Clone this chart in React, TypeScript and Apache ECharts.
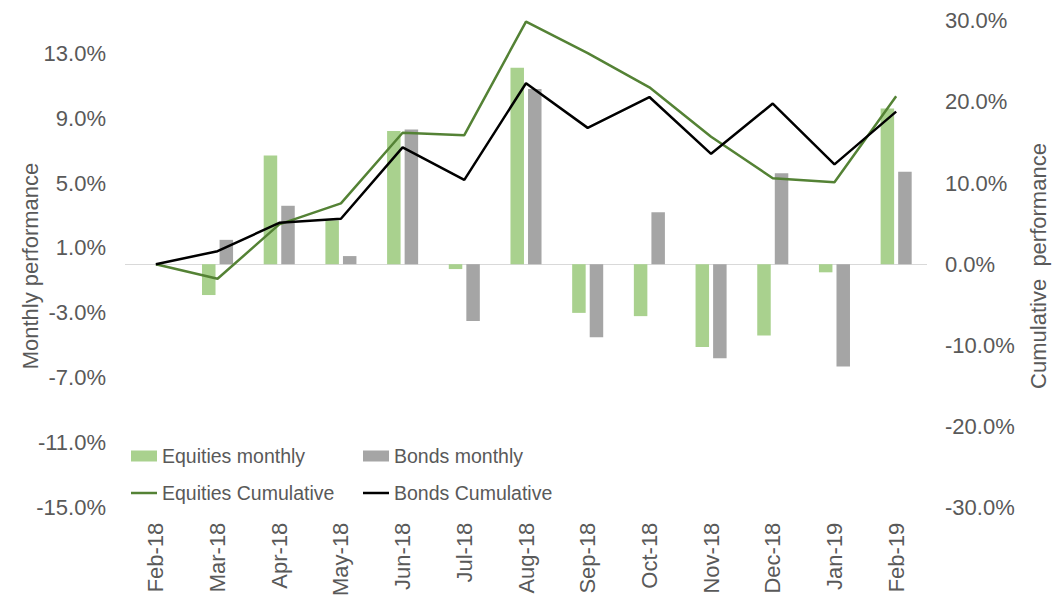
import React, { useEffect, useRef } from "react";
import * as echarts from "echarts";

const categories = ["Feb-18", "Mar-18", "Apr-18", "May-18", "Jun-18", "Jul-18", "Aug-18", "Sep-18", "Oct-18", "Nov-18", "Dec-18", "Jan-19", "Feb-19"];
const equitiesMonthly = [null, -1.9, 6.7, 2.7, 8.2, -0.3, 12.1, -3.0, -3.2, -5.1, -4.4, -0.5, 9.6];
const bondsMonthly = [null, 1.5, 3.6, 0.5, 8.3, -3.5, 10.8, -4.5, 3.2, -5.8, 5.6, -6.3, 5.7];
const equitiesCumulative = [0, -1.8, 4.9, 7.5, 16.2, 15.9, 29.9, 26.0, 21.8, 15.7, 10.6, 10.1, 20.7];
const bondsCumulative = [0, 1.6, 5.1, 5.6, 14.4, 10.4, 22.3, 16.8, 20.6, 13.6, 19.8, 12.3, 18.8];

const TEXT = "#595959";
const FONT = "Liberation Sans, Arial, sans-serif";

export default function App() {
  const ref = useRef<HTMLDivElement>(null);
  useEffect(() => {
    if (!ref.current) return;
    const chart = echarts.init(ref.current, undefined, { renderer: "svg" });
    const legendText = { color: TEXT, fontSize: 19.5, fontFamily: FONT, padding: [0, 0, 0, 0] };
    const mkLegend = (name: string, left: number, top: number, isBar: boolean) => ({
      data: [name],
      left,
      top,
      orient: "horizontal",
      icon: "rect",
      itemWidth: 26,
      itemHeight: isBar ? 11 : 2.5,
      itemGap: 0,
      padding: 0,
      textStyle: legendText,
      selectedMode: false,
    });
    chart.setOption({
      animation: false,
      backgroundColor: "#ffffff",
      textStyle: { fontFamily: FONT },
      grid: { left: 125, right: 135, top: 20.75, bottom: 90.75, containLabel: false },
      legend: [
        mkLegend("Equities monthly", 131, 446, true),
        mkLegend("Bonds monthly", 363, 446, true),
        mkLegend("Equities Cumulative", 131, 483, false),
        mkLegend("Bonds Cumulative", 363, 483, false),
      ],
      xAxis: {
        type: "category",
        data: categories,
        boundaryGap: true,
        axisLine: { show: false, onZero: false },
        axisTick: { show: false },
        axisLabel: { rotate: 90, margin: 15, color: TEXT, fontSize: 22, fontFamily: FONT, interval: 0 },
        splitLine: { show: false },
      },
      yAxis: [
        {
          type: "value",
          min: -15,
          max: 15,
          interval: 4,
          position: "left",
          axisLine: { show: false },
          axisTick: { show: false },
          splitLine: { show: false },
          axisLabel: {
            color: TEXT,
            fontSize: 22,
            fontFamily: FONT,
            margin: 19,
            showMaxLabel: false,
            formatter: (v: number) => v.toFixed(1) + "%",
          },
        },
        {
          type: "value",
          min: -30,
          max: 30,
          interval: 10,
          position: "right",
          axisLine: { show: false },
          axisTick: { show: false },
          splitLine: { show: false },
          axisLabel: {
            color: TEXT,
            fontSize: 22,
            fontFamily: FONT,
            margin: 18,
            formatter: (v: number) => v.toFixed(1) + "%",
          },
        },
      ],
      graphic: [
        {
          type: "text",
          x: 30,
          y: 266,
          rotation: Math.PI / 2,
          style: { text: "Monthly performance", fill: TEXT, fontSize: 22, fontFamily: FONT, align: "center", verticalAlign: "middle" },
        },
        {
          type: "text",
          x: 1038,
          y: 266,
          rotation: Math.PI / 2,
          style: { text: "Cumulative  performance", fill: TEXT, fontSize: 22, fontFamily: FONT, align: "center", verticalAlign: "middle" },
        },
      ],
      series: [
        {
          name: "Equities monthly",
          type: "bar",
          yAxisIndex: 0,
          data: equitiesMonthly,
          barWidth: 13.5,
          barGap: "30%",
          itemStyle: { color: "#a9d18e" },
          markLine: {
            silent: true,
            symbol: "none",
            label: { show: false },
            lineStyle: { color: "#d9d9d9", type: "solid", width: 1 },
            data: [{ yAxis: 0 }],
            z: 1,
          },
        },
        {
          name: "Bonds monthly",
          type: "bar",
          yAxisIndex: 0,
          data: bondsMonthly,
          barWidth: 13.5,
          barGap: "30%",
          itemStyle: { color: "#a5a5a5" },
        },
        {
          name: "Equities Cumulative",
          type: "line",
          yAxisIndex: 1,
          data: equitiesCumulative,
          symbol: "none",
          lineStyle: { color: "#548235", width: 2.5 },
          itemStyle: { color: "#548235" },
          z: 5,
        },
        {
          name: "Bonds Cumulative",
          type: "line",
          yAxisIndex: 1,
          data: bondsCumulative,
          symbol: "none",
          lineStyle: { color: "#000000", width: 2.5 },
          itemStyle: { color: "#000000" },
          z: 6,
        },
      ],
    });
    return () => chart.dispose();
  }, []);
  return <div ref={ref} style={{ position: "fixed", left: 0, top: 0, width: 1062, height: 599 }} />;
}
